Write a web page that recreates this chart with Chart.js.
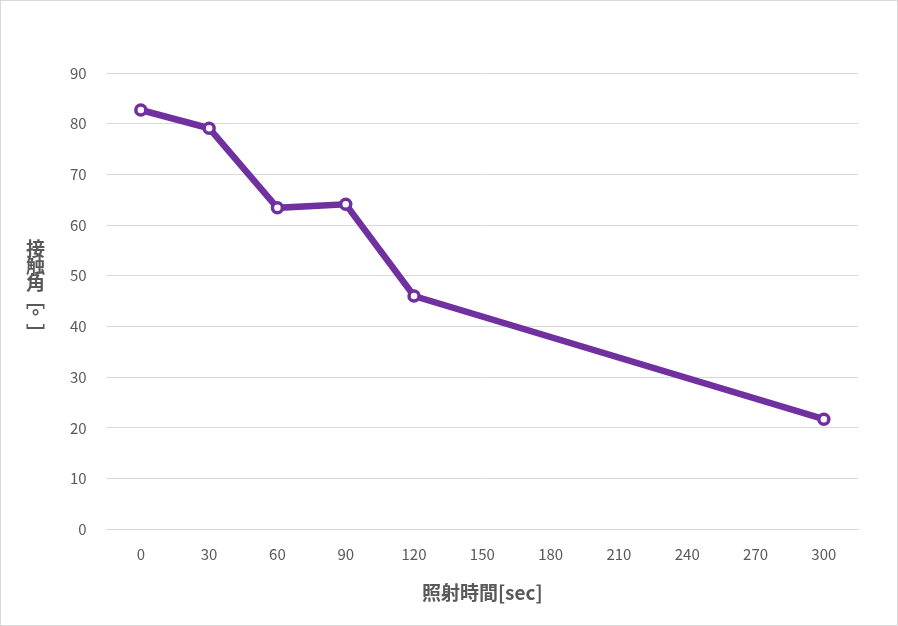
<!DOCTYPE html>
<html><head><meta charset="utf-8">
<script src="https://cdn.jsdelivr.net/npm/chart.js@4"></script>
<style>
html,body{margin:0;padding:0;background:#fff;}
#wrap{position:relative;width:896px;height:624px;border:1px solid #d9d9d9;}
#yt{position:absolute;left:25px;top:238px;writing-mode:vertical-rl;text-orientation:upright;font-family:"Noto Sans CJK JP";font-weight:bold;font-size:19px;line-height:1;color:#595959;letter-spacing:-2px;}
</style></head><body>
<div id="wrap"><canvas id="c" width="896" height="624"></canvas><div id="yt">接触角［°］</div></div>
<script>
const xLabels=['0','30','60','90','120','150','180','210','240','270','300'];
const contactAngle=[82.7,79.1,63.4,64.1,46.0,null,null,null,null,null,21.7];
const yTicks=[0,10,20,30,40,50,60,70,80,90];
const font={family:'"Noto Sans CJK JP"',size:15};
new Chart(document.getElementById('c'),{
type:'line',
data:{labels:xLabels,datasets:[{data:contactAngle,spanGaps:true,borderColor:'#7030A0',borderWidth:6.5,pointRadius:5,pointBorderWidth:3.5,pointBackgroundColor:'#fff',pointBorderColor:'#7030A0',tension:0}]},
options:{responsive:false,animation:false,
layout:{padding:{left:49,right:39,top:72,bottom:17}},
plugins:{legend:{display:false},tooltip:{enabled:false}},
scales:{
x:{offset:true,grid:{display:false},border:{color:'#d9d9d9'},ticks:{color:'#595959',font,padding:8},
 title:{display:true,text:'照射時間[sec]',color:'#595959',font:{family:'"Noto Sans CJK JP"',size:19,weight:'bold'},padding:{top:10}}},
y:{min:0,max:90,afterBuildTicks:a=>{a.ticks=yTicks.map(v=>({value:v}));},grid:{color:'#d9d9d9',drawTicks:false},border:{display:false},ticks:{color:'#595959',font,padding:20}}
}}});
</script></body></html>
